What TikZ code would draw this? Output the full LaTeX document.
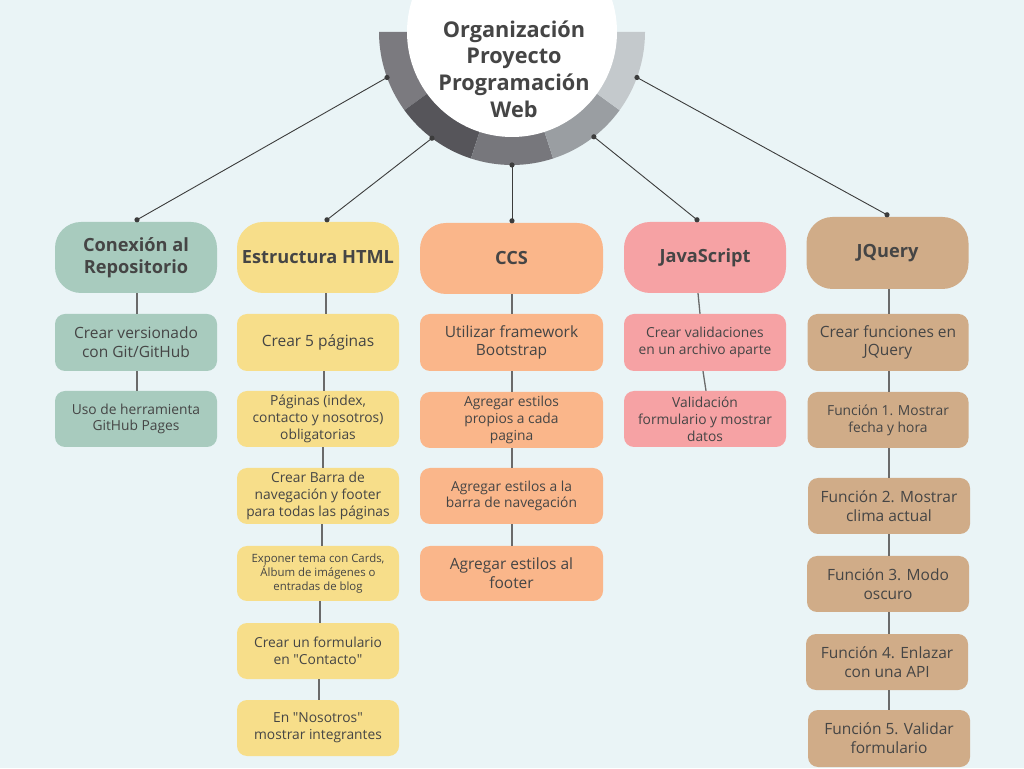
\documentclass[tikz,border=0pt]{standalone}
\usepackage{fontspec}
\setmainfont{Open Sans}
\newfontfamily\plainqf{Open Sans}
\usetikzlibrary{calc}
\definecolor{bg}{HTML}{EAF4F6}
\definecolor{txt}{HTML}{454545}
\definecolor{cgreen}{HTML}{A8CBBE}
\definecolor{cyellow}{HTML}{F7DE8A}
\definecolor{corange}{HTML}{FAB68A}
\definecolor{cpink}{HTML}{F6A2A4}
\definecolor{ctan}{HTML}{D0AC88}
\definecolor{sega}{HTML}{7B7A7F}
\definecolor{segb}{HTML}{56555A}
\definecolor{segc}{HTML}{77777C}
\definecolor{segd}{HTML}{9A9EA2}
\definecolor{sege}{HTML}{C4C9CC}
\definecolor{lnk}{HTML}{3C3C3C}
\definecolor{vln}{HTML}{6A6A6A}
\newcommand{\qq}{{\plainqf"}}
\tikzset{
  head/.style={rounded corners=26pt, minimum width=162pt, minimum height=71pt, inner sep=0pt, align=center, text=txt, font=\fontsize{18.2}{21.7}\selectfont\bfseries},
  item/.style={rounded corners=10pt, minimum width=162pt, minimum height=56pt, inner sep=0pt, align=center, text=txt, font=\fontsize{15.5}{18.8}\selectfont},
  small/.style={font=\fontsize{13.8}{16.8}\selectfont},
  tiny/.style={font=\fontsize{11.4}{13.8}\selectfont},
  link/.style={draw=lnk, line width=0.9pt},
  vline/.style={draw=vln, line width=1.3pt},
  dot/.style={fill=lnk}
}
\begin{document}
\begin{tikzpicture}[x=1pt,y=1pt]
\useasboundingbox (0,0) rectangle (1024,768);
\clip (0,0) rectangle (1024,768);
\fill[bg] (0,0) rectangle (1024,768);
% ring
\coordinate (cen) at (512,736);
\fill[sega] (cen) -- ++(180:133pt) arc[start angle=180,end angle=216,radius=133pt] -- cycle;
\fill[segb] (cen) -- ++(216:133pt) arc[start angle=216,end angle=252,radius=133pt] -- cycle;
\fill[segc] (cen) -- ++(252:133pt) arc[start angle=252,end angle=288,radius=133pt] -- cycle;
\fill[segd] (cen) -- ++(288:133pt) arc[start angle=288,end angle=324,radius=133pt] -- cycle;
\fill[sege] (cen) -- ++(324:133pt) arc[start angle=324,end angle=360,radius=133pt] -- cycle;
\fill[white] (cen) circle[radius=105pt];
\node[text=txt, align=center, font=\fontsize{21.7}{26.7}\selectfont\bfseries] (title) at (514,699) {Organización\\Proyecto\\Programación\\Web};
% headers
\node[head, fill=cgreen] (h1) at (136,510.5) {Conexión al\\Repositorio};
\node[head, fill=cyellow] (h2) at (318,510.5) {Estructura HTML};
\node[head, fill=corange, minimum width=183pt] (h3) at (511.5,509.5) {CCS};
\node[head, fill=cpink] (h4) at (705,510.5) {JavaScript};
\node[head, fill=ctan, minimum height=72pt] (h5) at (887.5,515) {JQuery};
% column 1
\node[item, fill=cgreen, minimum height=57pt] (c11) at (136,425.5) {Crear versionado\\con Git/GitHub};
\node[item, fill=cgreen, small] (c12) at (136,349) {Uso de herramienta\\GitHub Pages};
% column 2
\node[item, fill=cyellow, minimum height=57pt] (c21) at (318,425.5) {Crear 5 páginas};
\node[item, fill=cyellow, small] (c22) at (318,349) {Páginas (index,\\contacto y nosotros)\\obligatorias};
\node[item, fill=cyellow, small] (c23) at (318,272) {Crear Barra de\\navegación y footer\\para todas las páginas};
\node[item, fill=cyellow, tiny, minimum height=55pt] (c24) at (318,194.5) {Exponer tema con Cards,\\Álbum de imágenes o\\entradas de blog};
\node[item, fill=cyellow, small] (c25) at (318,117) {Crear un formulario\\en \qq Contacto\qq};
\node[item, fill=cyellow, small] (c26) at (318,40) {En \qq Nosotros\qq\\mostrar integrantes};
% column 3
\node[item, fill=corange, minimum width=183pt, minimum height=57pt] (c31) at (511.5,425.5) {Utilizar framework\\Bootstrap};
\node[item, fill=corange, minimum width=183pt, small] (c32) at (511.5,348) {Agregar estilos\\propios a cada\\pagina};
\node[item, fill=corange, minimum width=183pt, small] (c33) at (511.5,272) {Agregar estilos a la\\barra de navegación};
\node[item, fill=corange, minimum width=183pt, minimum height=55pt] (c34) at (511.5,194.5) {Agregar estilos al\\footer};
% column 4
\node[item, fill=cpink, minimum height=57pt, small] (c41) at (705,425.5) {Crear validaciones\\en un archivo aparte};
\node[item, fill=cpink, small] (c42) at (705,349) {Validación\\formulario y mostrar\\datos};
% column 5
\node[item, fill=ctan, minimum width=161pt, minimum height=57pt] (c51) at (888,425.5) {Crear funciones en\\JQuery};
\node[item, fill=ctan, minimum width=161pt, small] (c52) at (888,348) {Función 1. Mostrar\\fecha y hora};
\node[item, fill=ctan] (c53) at (889,262) {Función 2. Mostrar\\clima actual};
\node[item, fill=ctan] (c54) at (888,184) {Función 3. Modo\\oscuro};
\node[item, fill=ctan] (c55) at (887,106) {Función 4. Enlazar\\con una API};
\node[item, fill=ctan, minimum height=57pt] (c56) at (889,29.5) {Función 5. Validar\\formulario};
% ring-to-header links
\coordinate (r1) at ($(cen)+(200:133pt)$);
\coordinate (r2) at ($(cen)+(233:133pt)$);
\coordinate (r3) at ($(cen)+(270:133pt)$);
\coordinate (r4) at ($(cen)+(308:133pt)$);
\coordinate (r5) at ($(cen)+(340:133pt)$);
\coordinate (t1) at ($(h1.north)+(1,2)$);
\coordinate (t2) at ($(h2.north)+(9,2)$);
\coordinate (t3) at ($(h3.north)+(0.5,2)$);
\coordinate (t4) at ($(h4.north)+(-8,2)$);
\coordinate (t5) at ($(h5.north)+(-0.5,2)$);
\foreach \i in {1,...,5}{
  \draw[link] (r\i) -- (t\i);
  \fill[dot] (r\i) circle[radius=2.6pt];
  \fill[dot] (t\i) circle[radius=2.6pt];
}
% column connectors
\draw[vline] (h1.south -| 137,0) -- (c11.north -| 137,0);
\draw[vline] (c11.south -| 137,0) -- (c12.north -| 137,0);
\draw[vline] (h2.south -| 326,0) -- (c21.north -| 326,0);
\draw[vline] (c21.south -| 324,0) -- (c22.north -| 324,0);
\draw[vline] (c22.south -| 323,0) -- (c23.north -| 323,0);
\draw[vline] (c23.south -| 322,0) -- (c24.north -| 322,0);
\draw[vline] (c24.south -| 320,0) -- (c25.north -| 320,0);
\draw[vline] (c25.south -| 319,0) -- (c26.north -| 319,0);
\draw[vline] (h3.south -| 512,0) -- (c31.north -| 512,0);
\draw[vline] (c31.south -| 512,0) -- (c32.north -| 512,0);
\draw[vline] (c32.south -| 512,0) -- (c33.north -| 512,0);
\draw[vline] (c33.south -| 512,0) -- (c34.north -| 512,0);
\draw[vline] (h4.south -| 698,0) -- (c41.north -| 700,0);
\draw[vline] (c41.south -| 703,0) -- (c42.north -| 706,0);
\draw[vline] (h5.south -| 889,0) -- (c51.north -| 889,0);
\draw[vline] (c51.south -| 889,0) -- (c52.north -| 889,0);
\draw[vline] (c52.south -| 889,0) -- (c53.north -| 889,0);
\draw[vline] (c53.south -| 889,0) -- (c54.north -| 889,0);
\draw[vline] (c54.south -| 889,0) -- (c55.north -| 889,0);
\draw[vline] (c55.south -| 889,0) -- (c56.north -| 889,0);
\end{tikzpicture}
\end{document}
